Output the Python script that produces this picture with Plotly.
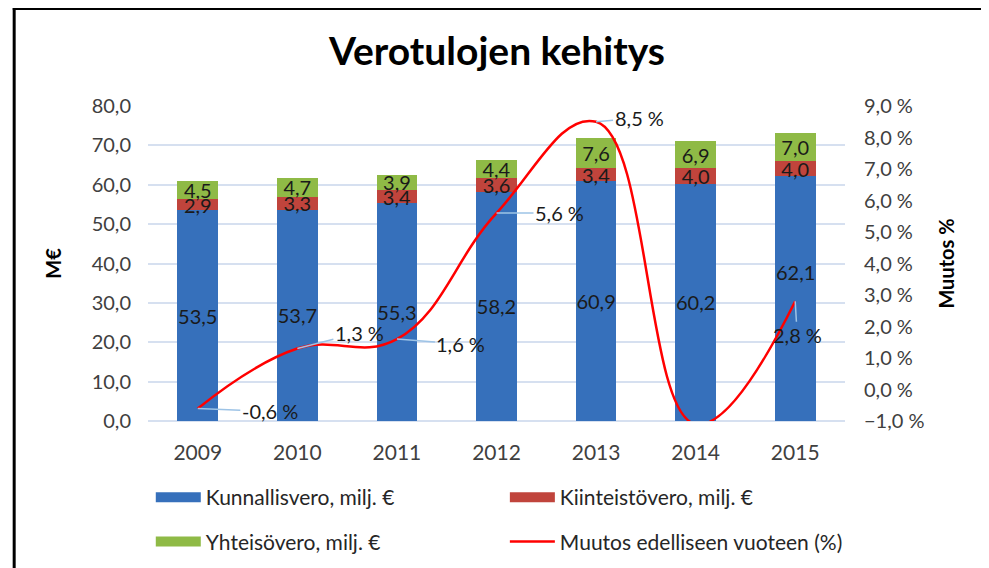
import plotly.graph_objects as go

years = ["2009", "2010", "2011", "2012", "2013", "2014", "2015"]
kunnallisvero = [53.5, 53.7, 55.3, 58.2, 60.9, 60.2, 62.1]
kiinteistovero = [2.9, 3.3, 3.4, 3.6, 3.4, 4.0, 4.0]
yhteisovero = [4.5, 4.7, 3.9, 4.4, 7.6, 6.9, 7.0]
muutos = [-0.6, 1.3, 1.6, 5.6, 8.5, -1.1, 2.8]

names = ["Kunnallisvero, milj. €", "Kiinteistövero, milj. €",
         "Yhteisövero, milj. €", "Muutos edelliseen vuoteen (%)"]
colors = ["#3670bb", "#c0443c", "#8fba46", "#ff0000"]

FONT = "Lato"
TXT = "#1a1a1a"
FS = 20


def fmt(v):
    return f"{v:.1f}".replace(".", ",")


fig = go.Figure()

blue_text = [fmt(v) if y != "2015" else "" for y, v in zip(years, kunnallisvero)]

bar_common = dict(textposition="inside", insidetextanchor="middle",
                  constraintext="none", textangle=0,
                  textfont=dict(family=FONT, size=FS, color=TXT),
                  marker_line_width=0, hoverinfo="skip", showlegend=False)

fig.add_trace(go.Bar(x=years, y=kunnallisvero, name=names[0], text=blue_text,
                     marker_color=colors[0], **bar_common))
fig.add_trace(go.Bar(x=years, y=kiinteistovero, name=names[1],
                     text=[fmt(v) for v in kiinteistovero],
                     marker_color=colors[1], **bar_common))
fig.add_trace(go.Bar(x=years, y=yhteisovero, name=names[2],
                     text=[fmt(v) for v in yhteisovero],
                     marker_color=colors[2], **bar_common))
fig.add_trace(go.Scatter(x=years, y=muutos, name=names[3], yaxis="y2",
                         mode="lines", line=dict(color=colors[3], width=2.5,
                                                 shape="spline", smoothing=1.2),
                         showlegend=False, hoverinfo="skip"))

# legend entries (wide rectangular keys as in the original)
legend_of = ["legend", "legend2", "legend", "legend2"]
for k, (nm, col, lg) in enumerate(zip(names, colors, legend_of)):
    fig.add_trace(go.Scatter(x=[None], y=[None], mode="lines", name=nm,
                             line=dict(color=col, width=12 if k < 3 else 2.5),
                             legend=lg, legendgroup=f"g{k}", showlegend=True,
                             hoverinfo="skip"))

# label offsets (pixels) for the percentage labels
offsets = {"2009": (72, 3), "2010": (62, -16), "2011": (64, 5),
           "2012": (63, 0), "2013": (43, -4), "2015": (2, 34)}

annotations = []
for i, (y, v) in enumerate(zip(years, muutos)):
    if v < -1.0 or y not in offsets:
        continue
    ax, ay = offsets[y]
    annotations.append(dict(x=i, y=v, xref="x", yref="y2",
                            text=fmt(v) + " %", showarrow=True,
                            ax=ax, ay=ay, arrowhead=0, arrowwidth=1.5,
                            arrowcolor="#9dc3e6", standoff=0, startstandoff=0,
                            font=dict(family=FONT, size=FS, color=TXT)))

# 2015 municipal tax label moved up to avoid overlap
annotations.append(dict(x=len(years) - 1, y=kunnallisvero[-1] / 2, xref="x", yref="y",
                        text=fmt(kunnallisvero[-1]), showarrow=False, yshift=27,
                        font=dict(family=FONT, size=FS, color=TXT)))

# chart title
annotations.append(dict(x=0.5, y=1.0, xref="paper", yref="paper", xanchor="center",
                        yanchor="bottom", yshift=31,
                        text="<b>Verotulojen kehitys</b>", showarrow=False,
                        font=dict(family=FONT, size=39, color="#000000")))

shapes = [
    dict(type="line", xref="paper", yref="paper", x0=-0.194, x1=1.3,
         y0=1.3095, y1=1.3095, line=dict(color="#000000", width=3)),
    dict(type="line", xref="paper", yref="paper", x0=-0.192, x1=-0.192,
         y0=1.312, y1=-0.5, line=dict(color="#000000", width=3)),
]

grid = "#d6e0f0"
legend_common = dict(y=-0.178, xanchor="left", yanchor="top",
                     orientation="v", traceorder="grouped", tracegroupgap=14,
                     itemwidth=45,
                     font=dict(family=FONT, size=21, color="#262626"),
                     bgcolor="rgba(0,0,0,0)")
fig.update_layout(
    width=989, height=568,
    margin=dict(l=140, r=152, t=98, b=155),
    paper_bgcolor="white", plot_bgcolor="white",
    barmode="stack", bargap=0.59,
    separators=", ",
    font=dict(family=FONT, size=FS, color="#404040"),
    showlegend=True,
    xaxis=dict(type="category", range=[-0.5, len(years) - 0.5], autorange=False,
               showgrid=False, showline=False, ticks="",
               zeroline=False, automargin=False, ticklabelstandoff=17,
               tickfont=dict(family=FONT, size=21, color="#404040")),
    yaxis=dict(range=[0, 80], dtick=10, tickformat=".1f", gridcolor=grid,
               gridwidth=2, zeroline=True, zerolinecolor=grid, zerolinewidth=2,
               showline=False, ticks="", automargin=False, ticklabelstandoff=16,
               tickfont=dict(family=FONT, size=FS, color="#404040"),
               title=dict(text="<b>M€</b>", standoff=24,
                          font=dict(family=FONT, size=20, color="#000000"))),
    yaxis2=dict(range=[-1, 9], dtick=1, tickformat=".1f", ticksuffix=" %",
                overlaying="y", side="right", showgrid=False, zeroline=False,
                showline=False, ticks="", automargin=False, ticklabelstandoff=18,
                tickfont=dict(family=FONT, size=FS, color="#404040"),
                title=dict(text="<b>Muutos %</b>", standoff=16,
                           font=dict(family=FONT, size=20, color="#000000"))),
    legend=dict(x=0.004, **legend_common),
    legend2=dict(x=0.512, **legend_common),
    annotations=annotations,
    shapes=shapes,
)

fig.write_html("out.html")
